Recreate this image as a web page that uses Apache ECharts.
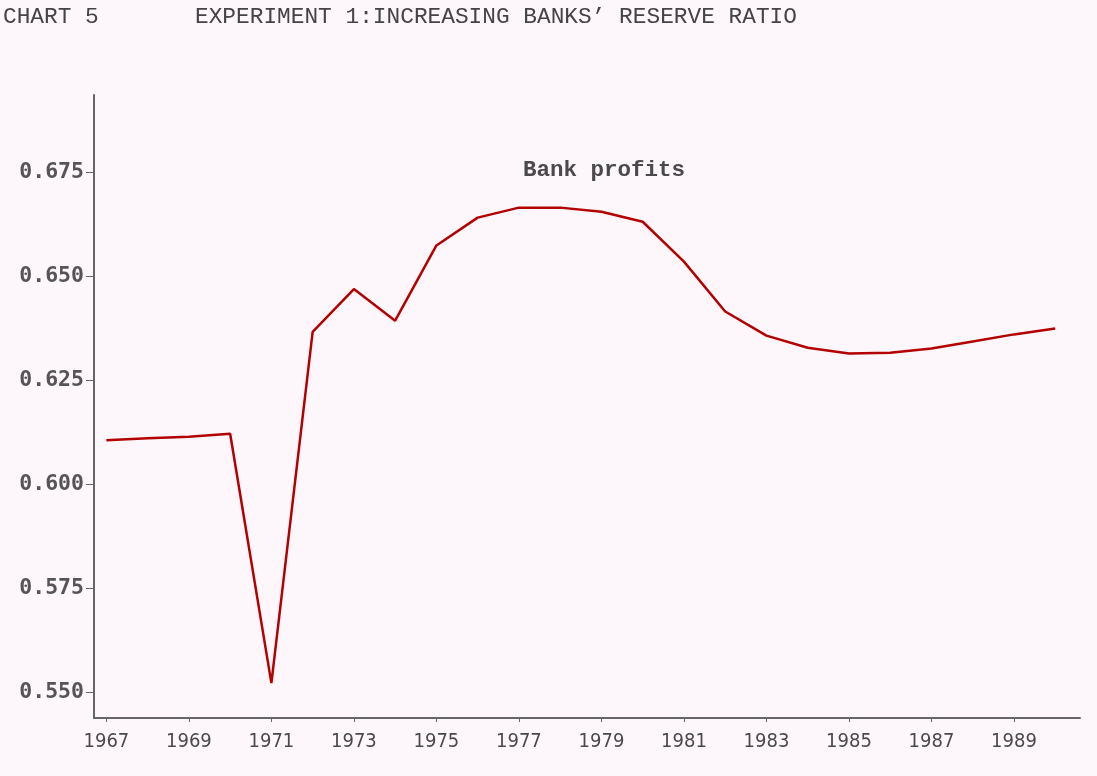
<!DOCTYPE html>
<html><head><meta charset="utf-8">
<script src="https://cdn.jsdelivr.net/npm/echarts@6/dist/echarts.min.js"></script>
<style>html,body{margin:0;padding:0;background:#fdf6fb}#c{width:1097px;height:776px}</style>
</head><body><div id="c"></div>
<script>
const years = [1967,1968,1969,1970,1971,1972,1973,1974,1975,1976,1977,1978,1979,1980,1981,1982,1983,1984,1985,1986,1987,1988,1989,1990];
const bankProfits = [0.6106,0.6111,0.6115,0.6122,0.5522,0.6367,0.6470,0.6394,0.6575,0.6642,0.6666,0.6666,0.6656,0.6632,0.6536,0.6416,0.6358,0.6329,0.6315,0.6317,0.6327,0.6344,0.6361,0.6375];
const xTicks = [1967,1969,1971,1973,1975,1977,1979,1981,1983,1985,1987,1989];
const yTicks = [0.550,0.575,0.600,0.625,0.650,0.675];
const chartTitle = 'CHART 5';
const chartSubtitle = 'EXPERIMENT 1:INCREASING BANKS\u2019 RESERVE RATIO';
const seriesName = 'Bank profits';

const chart = echarts.init(document.getElementById('c'));
chart.setOption({
  backgroundColor: '#fdf6fb',
  animation: false,
  grid: {left: 94, right: 17, top: 95, bottom: 58, containLabel: false},
  graphic: [
    {type:'text', left: 3, top: 5, style:{text: chartTitle, font: '22.8px "Liberation Mono", monospace', fill:'#444'}},
    {type:'text', left: 195, top: 5, style:{text: chartSubtitle, font: '22.8px "Liberation Mono", monospace', fill:'#444'}},
    {type:'text', left: 523, top: 159, style:{text: seriesName, font: 'bold 22.5px "Liberation Mono", monospace', fill:'#4a4a4a'}}
  ],
  xAxis: {
    type: 'value', min: 1966.7, max: 1990.6,
    axisLine: {show: true, lineStyle: {color: '#666', width: 2}},
    axisTick: {show: true, customValues: xTicks, length: 4, lineStyle: {color: '#666'}},
    axisLabel: {customValues: xTicks, margin: 14, color: '#4a4a4a',
      fontFamily: '"DejaVu Sans Condensed", "DejaVu Sans"', fontSize: 20, formatter: v => String(Math.round(v))},
    splitLine: {show: false}
  },
  yAxis: {
    type: 'value', min: 0.5438, max: 0.6937,
    axisLine: {show: true, lineStyle: {color: '#666', width: 2}},
    axisTick: {show: true, customValues: yTicks, length: 8, lineStyle: {color: '#666'}},
    axisLabel: {customValues: yTicks, margin: 10, color: '#555',
      fontFamily: '"DejaVu Sans Mono", monospace', fontWeight: 'bold', fontSize: 21.5,
      formatter: v => v.toFixed(3)},
    splitLine: {show: false}
  },
  series: [{
    type: 'line', name: seriesName,
    data: years.map((y, i) => [y, bankProfits[i]]),
    showSymbol: false, symbol: 'none',
    lineStyle: {color: '#b30000', width: 2.5},
    itemStyle: {color: '#b30000'}
  }]
});
</script></body></html>
